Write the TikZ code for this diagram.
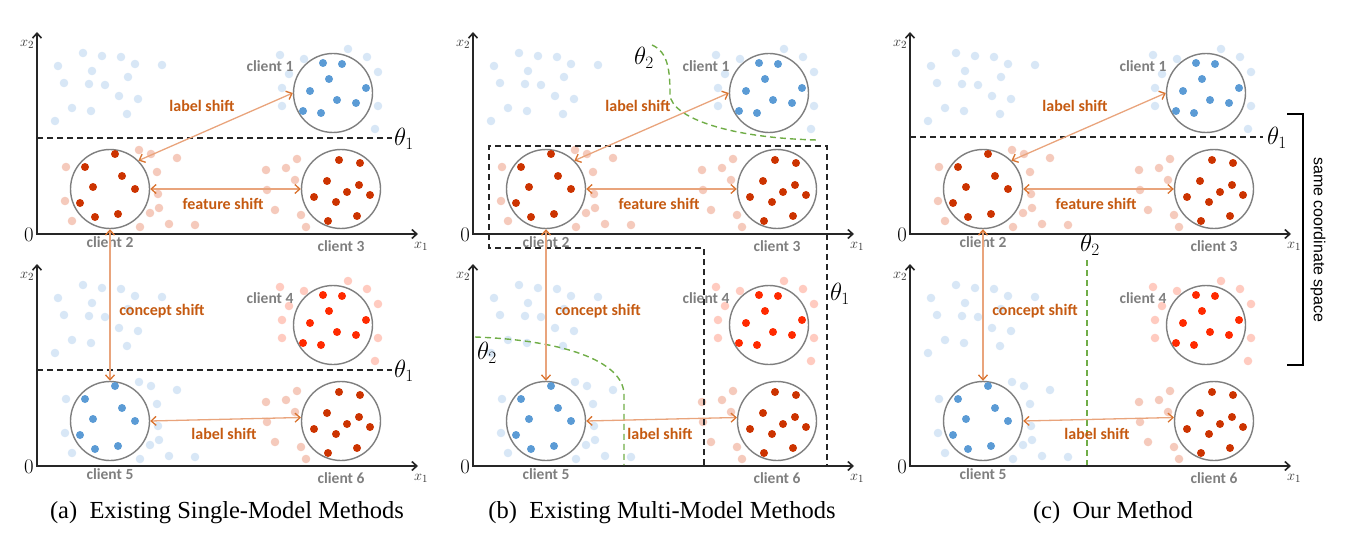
\documentclass[tikz,border=0pt]{standalone}
\usepackage{fontspec}
\setmainfont{Liberation Serif}
\newfontfamily\carlito{Carlito}
\newfontfamily\arialf{Liberation Sans}
\usetikzlibrary{arrows.meta}
\definecolor{lblue}{HTML}{D8E7F6}
\definecolor{dblue}{HTML}{5B9BD5}
\definecolor{lred}{HTML}{F5CABC}
\definecolor{dred}{HTML}{CC3300}
\definecolor{bred}{HTML}{FF2A00}
\definecolor{lpink}{HTML}{FFCBC0}
\definecolor{cgray}{HTML}{7F7F7F}
\definecolor{otext}{HTML}{C55A11}
\definecolor{oarrow}{HTML}{E9A47C}
\definecolor{ohead}{HTML}{D9732F}
\definecolor{gdash}{HTML}{70AD47}
\tikzset{
  clientc/.style={circle, draw=cgray, line width=1.4pt, minimum size=79pt, inner sep=0pt},
  clabel/.style={font=\carlito\bfseries\fontsize{15.5}{15.5}\selectfont, text=cgray, inner sep=0pt},
  slabel/.style={font=\carlito\bfseries\fontsize{16}{16}\selectfont, text=otext, inner sep=0pt},
  shiftarr/.style={draw=oarrow, line width=1.3pt,
    {Straight Barb[length=5pt,width=9pt,color=ohead]}-{Straight Barb[length=5pt,width=9pt,color=ohead]}},
  axis/.style={draw=black!85, line width=1.6pt,
    {Straight Barb[length=5pt,width=9pt]}-{Straight Barb[length=5pt,width=9pt]}},
  bdash/.style={draw=black!85, line width=1.4pt, dash pattern=on 6pt off 4pt},
  gdashs/.style={draw=gdash, line width=1.4pt, dash pattern=on 6pt off 4pt},
  thetal/.style={font=\fontsize{25}{25}\selectfont, inner sep=0pt},
  axlab/.style={font=\fontsize{15}{15}\selectfont, text=black!80, inner sep=0pt},
  zerol/.style={font=\fontsize{22}{22}\selectfont, inner sep=0pt},
  capt/.style={font=\fontsize{24.5}{24.5}\selectfont, anchor=base, inner sep=0pt},
}
\def\LBpts{(58,66),(83,53),(102,56),(121,57),(135,64),(162,65),(92,71),(64,83),(89,84),(105,85),(128,77),(119,96),(138,99),(72,108),(91,111),(127,114),(55,121)}
\def\NApts{(280,55),(304,59),(348,49),(367,57),(378,72),(289,74),(282,88),(282,106),(378,106),(375,129)}
\def\DApts{(323,63),(342,64),(329,79),(310,91),(366,88),(337,100),(356,103),(303,111),(321,113)}
\def\DBpts{(115,154),(85,167),(122,176),(93,187),(135,189),(80,203),(95,217),(118,214)}
\def\NBpts{(139,150),(151,154),(177,158),(66,167),(157,172),(158,194),(65,201),(159,208),(150,213),(72,221),(140,227),(169,224),(195,225)}
\def\NCpts{(297,159),(286,168),(266,170),(295,180),(267,190),(275,210),(301,215),(306,227)}
\def\DCpts{(339,160),(360,163),(327,181),(359,185),(347,192),(314,197),(370,195),(336,202),(357,216),(328,221)}
% #1 prefix, #2 dx, #3 dy, #4 n1 colour, #5 d1 colour, #6 n2 colour, #7 d2 colour, #8 first client number
\newcommand\drawrow[8]{%
\begin{scope}[shift={(#2,#3)}]
  \foreach \p in \LBpts {\fill[lblue] \p circle (4.3);}
  \foreach \p in \NApts {\fill[#4] \p circle (4.3);}
  \foreach \p in \NBpts {\fill[#6] \p circle (4.3);}
  \foreach \p in \NCpts {\fill[lred] \p circle (4.3);}
  \node[clientc] (#1R) at (333,93) {};
  \node[clientc] (#1L) at (110,189) {};
  \node[clientc] (#1M) at (341,189) {};
  \foreach \p in \DApts {\fill[#5] \p circle (4);}
  \foreach \p in \DBpts {\fill[#7] \p circle (4);}
  \foreach \p in \DCpts {\fill[dred] \p circle (4);}
  \node[clabel] (#1Rt) at (270,66) {client #8};
  \node[clabel] (#1Lt) at (110,242) {client \the\numexpr#8+1\relax};
  \node[clabel] (#1Mt) at (341,246) {client \the\numexpr#8+2\relax};
  \coordinate (#1ytop) at (37,32);
  \coordinate (#1orig) at (37,234);
  \coordinate (#1xend) at (418,234);
  \draw[axis] (#1ytop) -- (#1orig) -- (#1xend);
  \node[axlab] (#1xtwo) at (27,44) {$x_2$};
  \node[axlab] (#1xone) at (421,246) {$x_1$};
  \node[zerol] (#1zero) at (29,235) {$0$};
\end{scope}}
% arrows and shift labels: #1 top prefix, #2 bottom prefix, #3 dx
\newcommand\drawshifts[3]{%
  \draw[shiftarr] (#1L.45) -- (#1R.west);
  \draw[shiftarr] (#1L.east) -- (#1M.west);
  \draw[shiftarr] (#1L.south) -- (#2L.north);
  \draw[shiftarr] (#2L.east) -- (#2M.175);
  \begin{scope}[shift={(#3,0)}]
    \node[slabel] (#1ls) at (202,106) {label shift};
    \node[slabel] (#1fs) at (223,204) {feature shift};
    \node[slabel] (#1cs) at (162,311) {concept shift};
    \node[slabel] (#2ls) at (224,434) {label shift};
  \end{scope}}
\begin{document}
\begin{tikzpicture}[x=1pt,y=-1pt]
\useasboundingbox (0,0) rectangle (1351,548);
% ---------- rows ----------
\drawrow{aT}{0}{0}{lblue}{dblue}{lred}{dred}{1}
\drawrow{aB}{0}{232}{lpink}{bred}{lblue}{dblue}{4}
\drawrow{bT}{436}{0}{lblue}{dblue}{lred}{dred}{1}
\drawrow{bB}{436}{232}{lpink}{bred}{lblue}{dblue}{4}
\drawrow{cT}{873}{0}{lblue}{dblue}{lred}{dred}{1}
\drawrow{cB}{873}{232}{lpink}{bred}{lblue}{dblue}{4}
% ---------- panel (a) boundaries ----------
\draw[bdash] (37,138) -- (392,138);
\node[thetal] (aTth) at (404,139) {$\theta_1$};
\draw[bdash] (37,370) -- (392,370);
\node[thetal] (aBth) at (404,371) {$\theta_1$};
% ---------- panel (b) boundaries ----------
\draw[bdash] (704,465) -- (704,248) -- (489,248) -- (489,146) -- (827,146) -- (827,465);
\node[thetal] (bth1) at (840,294) {$\theta_1$};
\draw[gdashs] (652,45) .. controls (668,52) and (670,70) .. (670,95)
   .. controls (672,118) and (730,138) .. (817,140);
\node[thetal] (bthA) at (644,58) {$\theta_2$};
\draw[gdashs] (475,337) .. controls (560,340) and (624,360) .. (624,395) -- (624,465);
\node[thetal] (bthB) at (487,353) {$\theta_2$};
% ---------- panel (c) boundaries ----------
\draw[bdash] (910,137) -- (1263,137);
\node[thetal] (cth1) at (1277,138) {$\theta_1$};
\draw[gdashs] (1087,260) -- (1087,465);
\node[thetal] (cth2) at (1090,245) {$\theta_2$};
\draw[line width=1.5pt] (1287,114) -- (1303,114) -- (1303,365) -- (1287,365);
\node[rotate=-90, font=\arialf\fontsize{16}{16}\selectfont, inner sep=0pt] (same) at (1318,240) {same coordinate space};
% ---------- shifts ----------
\drawshifts{aT}{aB}{0}
\drawshifts{bT}{bB}{436}
\drawshifts{cT}{cB}{873}
% ---------- captions ----------
\node[capt] (capa) at (227,518) {(a)\hspace{0.5em}Existing Single-Model Methods};
\node[capt] (capb) at (662,518) {(b)\hspace{0.5em}Existing Multi-Model Methods};
\node[capt] (capc) at (1113,518) {(c)\hspace{0.5em}Our Method};
\end{tikzpicture}
\end{document}
